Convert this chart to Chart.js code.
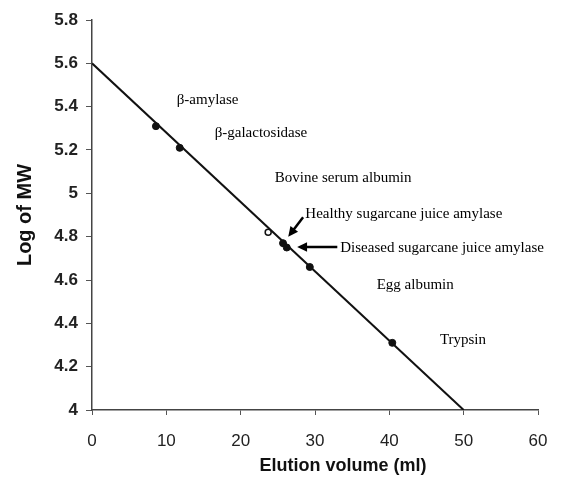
<!DOCTYPE html>
<html>
<head>
<meta charset="utf-8">
<script src="https://cdn.jsdelivr.net/npm/chart.js@4/dist/chart.umd.min.js"></script>
<style>
  html, body { margin: 0; padding: 0; background: #fff; }
  #wrap { width: 570px; height: 485px; }
</style>
</head>
<body>
<div id="wrap"><canvas id="chart"></canvas></div>
<script>
// Calibration standards (elution volume ml, log MW)
const standardX = [8.6, 11.8, 25.7, 26.2, 29.3, 40.4];
const standardY = [5.31, 5.21, 4.77, 4.75, 4.66, 4.31];
const openX = [23.7];
const openY = [4.82];

// Fitted calibration line
const fitX = [0, 50];
const fitY = [5.6, 4.0];

const xTicks = [0, 10, 20, 30, 40, 50, 60];
const yTicks = [4, 4.2, 4.4, 4.6, 4.8, 5, 5.2, 5.4, 5.6, 5.8];

// Protein labels (text, anchor in data units)
const labelText = ["β-amylase", "β-galactosidase", "Bovine serum albumin",
  "Healthy sugarcane juice amylase", "Diseased sugarcane juice amylase", "Egg albumin", "Trypsin"];
const labelX = [11.4, 16.5, 24.6, 28.7, 33.4, 38.3, 46.8];
const labelY = [5.43, 5.28, 5.07, 4.905, 4.748, 4.577, 4.323];

// Arrows [fromX, fromY, toX, toY]
const arrows = [
  [28.4, 4.89, 26.4, 4.80],
  [33.0, 4.752, 27.6, 4.752],
];

const toPts = (xs, ys) => xs.map((x, i) => ({ x, y: ys[i] }));

const annotate = {
  id: "annotate",
  afterDatasetsDraw(chart) {
    const { ctx, scales: { x, y }, chartArea } = chart;
    ctx.save();
    ctx.fillStyle = "#000";
    ctx.font = "15px 'Liberation Serif', serif";
    ctx.textBaseline = "middle";
    ctx.textAlign = "left";
    labelText.forEach((t, i) => ctx.fillText(t, x.getPixelForValue(labelX[i]), y.getPixelForValue(labelY[i])));

    ctx.strokeStyle = "#000";
    ctx.lineWidth = 2.5;
    for (const [x0, y0, x1, y1] of arrows) {
      const px0 = x.getPixelForValue(x0), py0 = y.getPixelForValue(y0);
      const px1 = x.getPixelForValue(x1), py1 = y.getPixelForValue(y1);
      const ang = Math.atan2(py1 - py0, px1 - px0);
      const head = 11;
      ctx.beginPath();
      ctx.moveTo(px0, py0);
      ctx.lineTo(px1 - Math.cos(ang) * head * 0.8, py1 - Math.sin(ang) * head * 0.8);
      ctx.stroke();
      ctx.beginPath();
      ctx.moveTo(px1, py1);
      ctx.lineTo(px1 - head * Math.cos(ang - 0.45), py1 - head * Math.sin(ang - 0.45));
      ctx.lineTo(px1 - head * Math.cos(ang + 0.45), py1 - head * Math.sin(ang + 0.45));
      ctx.closePath();
      ctx.fillStyle = "#000";
      ctx.fill();
    }

    // axis titles
    ctx.fillStyle = "#111";
    ctx.font = "bold 18px 'Liberation Sans', Arial, sans-serif";
    ctx.textAlign = "center";
    ctx.fillText("Elution volume (ml)", 343, 466);
    ctx.translate(25, (chartArea.top + chartArea.bottom) / 2);
    ctx.rotate(-Math.PI / 2);
    ctx.font = "bold 20px 'Liberation Sans', Arial, sans-serif";
    ctx.fillText("Log of MW", 0, 0);
    ctx.restore();
  }
};

new Chart(document.getElementById("chart"), {
  type: "scatter",
  data: {
    datasets: [
      {
        type: "line",
        data: toPts(fitX, fitY),
        borderColor: "#111",
        borderWidth: 2,
        pointRadius: 0,
        fill: false,
      },
      {
        data: toPts(standardX, standardY),
        backgroundColor: "#111",
        borderColor: "#111",
        pointRadius: 3.5,
      },
      {
        data: toPts(openX, openY),
        backgroundColor: "#fff",
        borderColor: "#111",
        borderWidth: 1.5,
        pointRadius: 3,
      },
    ],
  },
  options: {
    responsive: true,
    maintainAspectRatio: false,
    animation: false,
    layout: { padding: { top: 20, right: 32, left: 0, bottom: 0 } },
    plugins: { legend: { display: false }, tooltip: { enabled: false } },
    scales: {
      x: {
        type: "linear",
        min: 0, max: 60,
        afterBuildTicks: (s) => { s.ticks = xTicks.map((v) => ({ value: v })); },
        afterFit: (s) => { s.height = 75; },
        grid: { drawOnChartArea: false, drawTicks: true, tickLength: 5, color: "#555" },
        border: { color: "#444", width: 1.5 },
        ticks: { padding: 16, color: "#222", font: { family: "'Liberation Sans', Arial", size: 17 } },
      },
      y: {
        type: "linear",
        min: 4, max: 5.8,
        afterBuildTicks: (s) => { s.ticks = yTicks.map((v) => ({ value: v })); },
        afterFit: (s) => { s.width = 92; },
        grid: { drawOnChartArea: false, drawTicks: true, tickLength: 6, color: "#555" },
        border: { color: "#444", width: 1.5 },
        ticks: {
          padding: 8, color: "#222",
          font: { family: "'Liberation Sans', Arial", size: 17, weight: "bold" },
          callback: (v) => String(+Number(v).toFixed(1)),
        },
      },
    },
  },
  plugins: [annotate],
});
</script>
</body>
</html>
